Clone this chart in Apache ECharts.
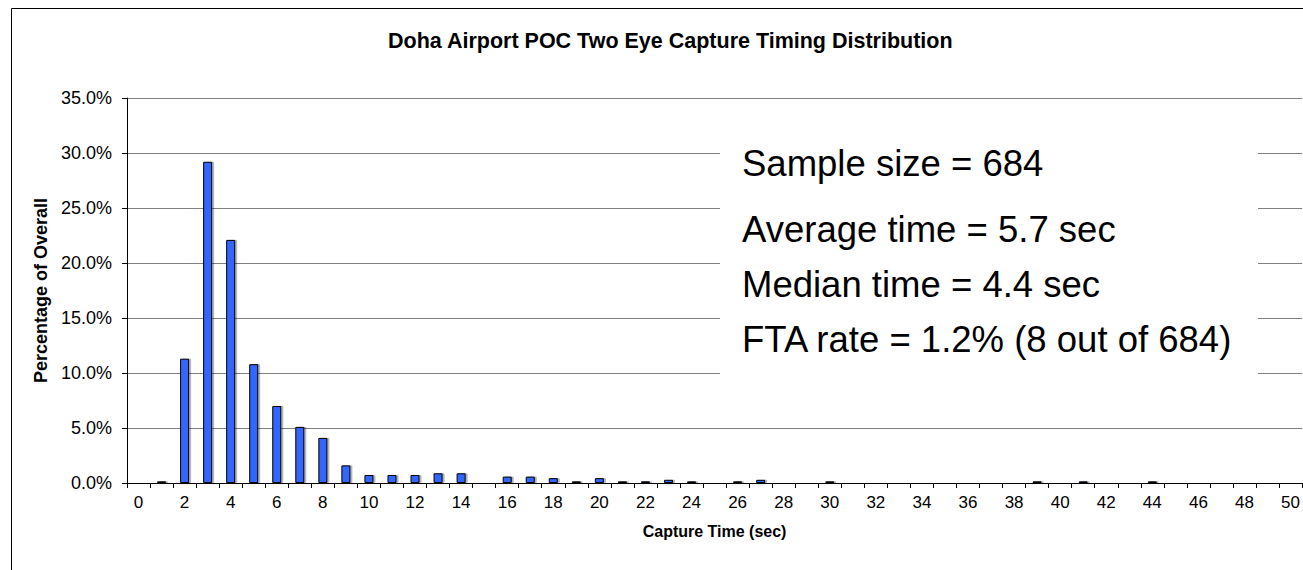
<!DOCTYPE html>
<html>
<head>
<meta charset="utf-8">
<script src="https://cdn.jsdelivr.net/npm/echarts@6/dist/echarts.min.js"></script>
<style>
html,body{margin:0;padding:0;background:#fff;}
#chart{width:1303px;height:570px;}
</style>
</head>
<body>
<div id="chart"></div>
<script>
// Capture time categories (seconds)
const categories = [];
for (let i = 0; i <= 50; i++) categories.push(String(i));
// Percentage of overall captures per second bin
const percentValues = [
  0, 0.15, 11.3, 29.2, 22.1, 10.8, 7.0, 5.1, 4.1, 1.6,
  0.73, 0.73, 0.73, 0.88, 0.88, 0, 0.58, 0.58, 0.44, 0.15,
  0.44, 0.15, 0.15, 0.29, 0.15, 0, 0.15, 0.29, 0, 0,
  0.15, 0, 0, 0, 0, 0, 0, 0, 0, 0.15,
  0, 0.15, 0, 0, 0.15, 0, 0, 0, 0, 0, 0
];
const titleText = 'Doha Airport POC Two Eye Capture Timing Distribution';
const xName = 'Capture Time (sec)';
const yName = 'Percentage of Overall';
const statLines = [
  'Sample size = 684',
  'Average time = 5.7 sec',
  'Median time = 4.4 sec',
  'FTA rate = 1.2% (8 out of 684)'
];

const chart = echarts.init(document.getElementById('chart'), null, {renderer: 'svg'});
const font = 'Arial, "Liberation Sans", sans-serif';
const statFont = '36.5px Arial, "Liberation Sans", sans-serif';
const statTops = [145, 211, 266, 321];
chart.setOption({
  animation: false,
  backgroundColor: '#ffffff',
  title: {
    text: titleText,
    left: 383,
    top: 25,
    textStyle: {fontFamily: font, fontSize: 21.5, fontWeight: 'bold', color: '#000'}
  },
  grid: {left: 127, right: -2, top: 98, bottom: 87, containLabel: false},
  xAxis: {
    type: 'category',
    data: categories,
    name: xName,
    nameLocation: 'middle',
    nameGap: 40,
    nameTextStyle: {fontFamily: font, fontSize: 16, fontWeight: 'bold', color: '#000'},
    axisLine: {lineStyle: {color: '#000', width: 1}},
    axisTick: {show: true, alignWithLabel: false, interval: 0, length: 5, inside: false, lineStyle: {color: '#000'}},
    axisLabel: {interval: 1, fontFamily: font, fontSize: 17, color: '#000', margin: 11},
    splitLine: {show: false}
  },
  yAxis: {
    type: 'value',
    min: 0,
    max: 35,
    interval: 5,
    name: yName,
    nameLocation: 'middle',
    nameGap: 77,
    nameTextStyle: {fontFamily: font, fontSize: 18, fontWeight: 'bold', color: '#000'},
    axisLine: {show: true, lineStyle: {color: '#000', width: 1}},
    axisTick: {show: true, length: 5, lineStyle: {color: '#000'}},
    axisLabel: {fontFamily: font, fontSize: 18, color: '#000', margin: 15,
      formatter: v => v.toFixed(1) + '%'},
    splitLine: {show: true, lineStyle: {color: '#808080', width: 1}}
  },
  series: [{
    type: 'bar',
    data: percentValues,
    barWidth: 9,
    itemStyle: {color: '#3366FF', borderColor: '#000', borderWidth: 1,
      shadowColor: 'rgba(0,0,0,0.3)', shadowOffsetX: 2, shadowOffsetY: 0, shadowBlur: 0},
    z: 3
  }],
  graphic: [
    {type: 'rect', left: 9, top: 6, shape: {width: 1400, height: 700},
      style: {fill: 'none', stroke: '#000', lineWidth: 1}, z: 0, silent: true},
    {type: 'rect', left: 720, top: 140, shape: {width: 538, height: 240},
      style: {fill: '#fff'}, z: 10, silent: true},
    {type: 'text', left: 742, top: statTops[0], z: 11, style: {text: statLines[0], font: statFont, fill: '#000'}},
    {type: 'text', left: 742, top: statTops[1], z: 11, style: {text: statLines[1], font: statFont, fill: '#000'}},
    {type: 'text', left: 742, top: statTops[2], z: 11, style: {text: statLines[2], font: statFont, fill: '#000'}},
    {type: 'text', left: 742, top: statTops[3], z: 11, style: {text: statLines[3], font: statFont, fill: '#000'}}
  ]
});
</script>
</body>
</html>
